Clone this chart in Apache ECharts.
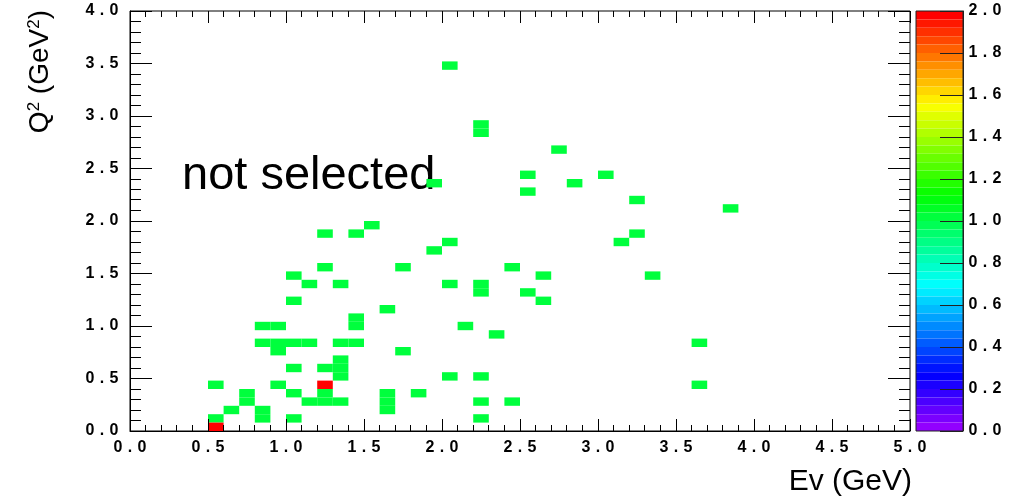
<!DOCTYPE html>
<html>
<head>
<meta charset="utf-8">
<script src="https://cdn.jsdelivr.net/npm/echarts@6/dist/echarts.min.js"></script>
<style>
  html, body { margin: 0; padding: 0; background: #fff; }
  #main { width: 1011px; height: 499px; }
</style>
</head>
<body>
<div id="main"></div>
<script>
// histogram binning
var evBinWidth = 0.1;
var q2BinWidth = 0.08;

// [Ev bin centre (GeV), Q2 bin centre (GeV^2), entries]
var cells = [
  [2.05, 3.48, 1],
  [2.25, 2.92, 1], [2.25, 2.84, 1],
  [2.75, 2.68, 1],
  [2.55, 2.44, 1], [3.05, 2.44, 1],
  [1.95, 2.36, 1], [2.85, 2.36, 1],
  [2.55, 2.28, 1],
  [3.25, 2.20, 1],
  [3.85, 2.12, 1],
  [1.55, 1.96, 1],
  [1.25, 1.88, 1], [1.45, 1.88, 1], [3.25, 1.88, 1],
  [2.05, 1.80, 1], [3.15, 1.80, 1],
  [1.95, 1.72, 1],
  [1.25, 1.56, 1], [1.75, 1.56, 1], [2.45, 1.56, 1],
  [1.05, 1.48, 1], [2.65, 1.48, 1], [3.35, 1.48, 1],
  [1.15, 1.40, 1], [1.35, 1.40, 1], [2.05, 1.40, 1], [2.25, 1.40, 1],
  [2.25, 1.32, 1], [2.55, 1.32, 1],
  [1.05, 1.24, 1], [2.65, 1.24, 1],
  [1.65, 1.16, 1],
  [1.45, 1.08, 1],
  [0.85, 1.00, 1], [0.95, 1.00, 1], [1.45, 1.00, 1], [2.15, 1.00, 1],
  [2.35, 0.92, 1],
  [0.85, 0.84, 1], [0.95, 0.84, 1], [1.05, 0.84, 1], [1.15, 0.84, 1],
  [1.35, 0.84, 1], [1.45, 0.84, 1], [3.65, 0.84, 1],
  [0.95, 0.76, 1], [1.75, 0.76, 1],
  [1.35, 0.68, 1],
  [1.05, 0.60, 1], [1.25, 0.60, 1], [1.35, 0.60, 1],
  [1.35, 0.52, 1], [2.05, 0.52, 1], [2.25, 0.52, 1],
  [0.55, 0.44, 1], [0.95, 0.44, 1], [1.25, 0.44, 2], [3.65, 0.44, 1],
  [0.75, 0.36, 1], [1.05, 0.36, 1], [1.25, 0.36, 1], [1.65, 0.36, 1], [1.85, 0.36, 1],
  [0.75, 0.28, 1], [1.15, 0.28, 1], [1.25, 0.28, 1], [1.35, 0.28, 1],
  [1.65, 0.28, 1], [2.25, 0.28, 1], [2.45, 0.28, 1],
  [0.65, 0.20, 1], [0.85, 0.20, 1], [1.65, 0.20, 1],
  [0.55, 0.12, 1], [0.85, 0.12, 1], [1.05, 0.12, 1], [2.25, 0.12, 1],
  [0.55, 0.04, 2]
];

// axis ranges
var evMin = 0, evMax = 5;
var q2Min = 0, q2Max = 4;
var zMin = 0, zMax = 2;

// frame tick positions (major = labelled 0.5 steps)
var evTicks = [0.0, 0.1, 0.2, 0.3, 0.4, 0.5, 0.6, 0.7, 0.8, 0.9,
  1.0, 1.1, 1.2, 1.3, 1.4, 1.5, 1.6, 1.7, 1.8, 1.9,
  2.0, 2.1, 2.2, 2.3, 2.4, 2.5, 2.6, 2.7, 2.8, 2.9,
  3.0, 3.1, 3.2, 3.3, 3.4, 3.5, 3.6, 3.7, 3.8, 3.9,
  4.0, 4.1, 4.2, 4.3, 4.4, 4.5, 4.6, 4.7, 4.8, 4.9, 5.0];
var q2Ticks = [0.0, 0.1, 0.2, 0.3, 0.4, 0.5, 0.6, 0.7, 0.8, 0.9,
  1.0, 1.1, 1.2, 1.3, 1.4, 1.5, 1.6, 1.7, 1.8, 1.9,
  2.0, 2.1, 2.2, 2.3, 2.4, 2.5, 2.6, 2.7, 2.8, 2.9,
  3.0, 3.1, 3.2, 3.3, 3.4, 3.5, 3.6, 3.7, 3.8, 3.9, 4.0];

// ROOT "pretty" palette: 50 colours, hue 280 -> 0
var nColors = 50;
var pieces = [];
for (var k = 0; k < nColors; k++) {
  var hue = 280 - (k + 1) * (280 / nColors);
  var lo = zMin + k * (zMax - zMin) / nColors;
  var hi = zMin + (k + 1) * (zMax - zMin) / nColors;
  var p = { gte: lo, color: 'hsl(' + hue.toFixed(1) + ',100%,50%)' };
  if (k === nColors - 1) p.lte = hi; else p.lt = hi;
  pieces.push(p);
}

var labelFont = 'Liberation Sans, Arial, sans-serif';
function monoLabel(v) {
  return v.toFixed(1).split('').map(function (c) { return '{c|' + c + '}'; }).join('');
}
var labelRich = {
  c: { width: 12, align: 'center', fontFamily: labelFont, fontSize: 16, fontWeight: 'bold', color: '#000' }
};
function isMajor(v) { return Math.abs(v * 2 - Math.round(v * 2)) < 1e-6; }

// ticks are thin filled rects, one pixel wide, on both opposite frame edges
function tickSeries(name, dim) {
  return {
    name: name,
    type: 'custom',
    coordinateSystem: 'cartesian2d',
    xAxisIndex: 0,
    yAxisIndex: 0,
    z: 5,
    silent: true,
    clip: false,
    encode: { x: 0, y: 1 },
    renderItem: function (params, api) {
      var v = api.value(dim);
      var kids;
      if (dim === 0) {
        var b = api.coord([v, q2Min]);
        var t = api.coord([v, q2Max]);
        var lx = isMajor(v) ? 12 : 6;
        var x = Math.floor(b[0]);
        kids = [
          { type: 'rect', shape: { x: x, y: b[1] - lx, width: 1, height: lx }, style: { fill: '#000' } },
          { type: 'rect', shape: { x: x, y: t[1], width: 1, height: lx }, style: { fill: '#000' } }
        ];
      } else {
        var l = api.coord([evMin, v]);
        var r = api.coord([evMax, v]);
        var ly = isMajor(v) ? 22 : 11;
        var y = Math.floor(l[1]);
        kids = [
          { type: 'rect', shape: { x: l[0], y: y, width: ly, height: 1 }, style: { fill: '#000' } },
          { type: 'rect', shape: { x: r[0] - ly, y: y, width: ly, height: 1 }, style: { fill: '#000' } }
        ];
      }
      return { type: 'group', children: kids };
    },
    data: dim === 0
      ? evTicks.map(function (v) { return [v, q2Min]; })
      : q2Ticks.map(function (v) { return [evMin, v]; })
  };
}

var myChart = echarts.init(document.getElementById('main'));

option = {
  backgroundColor: '#fff',
  animation: false,
  grid: [
    { left: 130, top: 11, width: 780, height: 420, show: true, borderColor: '#000', borderWidth: 1 },
    { left: 916, top: 11, width: 47, height: 420, show: true, borderColor: '#222', borderWidth: 1, z: 10 }
  ],
  xAxis: [
    {
      type: 'value', gridIndex: 0, position: 'bottom', min: evMin, max: evMax, interval: 0.5,
      axisLine: { show: true, lineStyle: { color: '#000', width: 1 } },
      axisTick: { show: false },
      splitLine: { show: false },
      axisLabel: { margin: 9, formatter: monoLabel, rich: labelRich }
    },
    { type: 'value', gridIndex: 1, min: 0, max: 1, show: false }
  ],
  yAxis: [
    {
      type: 'value', gridIndex: 0, position: 'left', min: q2Min, max: q2Max, interval: 0.5,
      axisLine: { show: true, lineStyle: { color: '#000', width: 1 } },
      axisTick: { show: false },
      splitLine: { show: false },
      axisLabel: { margin: 10, formatter: monoLabel, rich: labelRich }
    },
    {
      type: 'value', gridIndex: 1, position: 'right', min: zMin, max: zMax, interval: 0.2, z: 50,
      axisLine: { show: true, onZero: false, lineStyle: { color: '#222', width: 1 } },
      axisTick: { show: true, inside: true, length: 23, lineStyle: { color: '#222' } },
      splitLine: { show: false },
      axisLabel: { margin: 4, formatter: monoLabel, rich: labelRich }
    }
  ],
  visualMap: {
    type: 'piecewise',
    orient: 'vertical',
    left: 916,
    top: 11,
    padding: 0,
    itemWidth: 47,
    itemHeight: 8.4,
    itemGap: 0,
    itemSymbol: 'rect',
    showLabel: false,
    selectedMode: false,
    hoverLink: false,
    dimension: 2,
    seriesIndex: 0,
    pieces: pieces
  },
  graphic: [
    {
      type: 'text', left: 182, top: 153,
      style: { text: 'not selected', fontFamily: labelFont, fontSize: 47, fill: '#000' }
    },
    {
      type: 'text', x: 912, y: 482,
      style: { text: 'Ev (GeV)', fontFamily: labelFont, fontSize: 30, fill: '#000', align: 'right', verticalAlign: 'middle' }
    },
    {
      type: 'text', x: 40, y: 10, rotation: Math.PI / 2,
      style: {
        text: 'Q{s|2} (GeV{s|2})', fontFamily: labelFont, fontSize: 28, fill: '#000',
        align: 'right', verticalAlign: 'middle',
        rich: { s: { fontFamily: labelFont, fontSize: 17, lineHeight: 14, verticalAlign: 'top', fill: '#000' } }
      }
    }
  ],
  series: [
    {
      name: 'entries',
      type: 'custom',
      coordinateSystem: 'cartesian2d',
      xAxisIndex: 0,
      yAxisIndex: 0,
      encode: { x: 0, y: 1 },
      renderItem: function (params, api) {
        var ev = api.value(0);
        var q2 = api.value(1);
        var p0 = api.coord([ev - evBinWidth / 2, q2 - q2BinWidth / 2]);
        var p1 = api.coord([ev + evBinWidth / 2, q2 + q2BinWidth / 2]);
        return {
          type: 'rect',
          shape: { x: p0[0], y: p1[1], width: p1[0] - p0[0], height: p0[1] - p1[1] },
          style: { fill: api.visual('color') }
        };
      },
      data: cells
    },
    tickSeries('evTicks', 0),
    tickSeries('q2Ticks', 1)
  ]
};

if (option && typeof option === "object") {
  myChart.setOption(option, true);
}
</script>
</body>
</html>
